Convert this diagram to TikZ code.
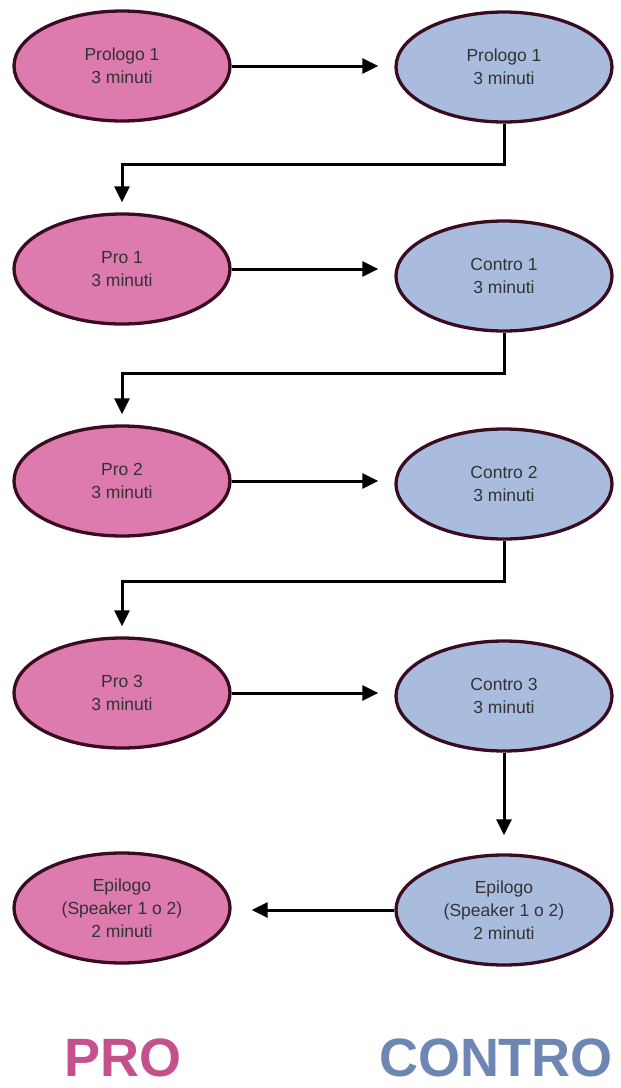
\documentclass[tikz,border=0pt]{standalone}
\usepackage{fontspec}
\setmainfont{Liberation Sans}
\usetikzlibrary{arrows.meta,
                shapes.geometric}
\definecolor{pink}{HTML}{DD7AAE}
\definecolor{lightblue}{HTML}{AABCDD}
\definecolor{rim}{HTML}{3A0C22}
\definecolor{protext}{HTML}{C4508C}
\definecolor{controtext}{HTML}{6D86B4}

\begin{document}
\begin{tikzpicture}[
x=1pt, y=-1pt,
   turn/.style = {ellipse, draw=rim, line width=3.3pt,
                  minimum width=216pt, minimum height=110pt,
                  align=center, text=black!80, inner sep=1pt,
                  font=\fontsize{17.5}{23}\selectfont},
    pro/.style = {turn, fill=pink},
 contro/.style = {turn, fill=lightblue},
    arr/.style = {line width=3pt, -{Triangle[length=16pt,width=15pt]}},
   side/.style = {font=\bfseries\fontsize{54}{54}\selectfont,
                  anchor=base, inner sep=0pt}
                        ]
\useasboundingbox (0,0) rectangle (621,1088);
% speakers
\node[pro]    (P1) at (122,66)  {Prologo 1\\3 minuti};
\node[contro] (C1) at (504,67)  {Prologo 1\\3 minuti};
\node[pro]    (P2) at (122,269) {Pro 1\\3 minuti};
\node[contro] (C2) at (504,276) {Contro 1\\3 minuti};
\node[pro]    (P3) at (122,481) {Pro 2\\3 minuti};
\node[contro] (C3) at (504,484) {Contro 2\\3 minuti};
\node[pro]    (P4) at (122,693) {Pro 3\\3 minuti};
\node[contro] (C4) at (504,696) {Contro 3\\3 minuti};
\node[pro]    (P5) at (122,908) {Epilogo\\(Speaker 1 o 2)\\2 minuti};
\node[contro] (C5) at (504,910) {Epilogo\\(Speaker 1 o 2)\\2 minuti};
% turns
\foreach \i in {1,...,4}
    \draw[arr, shorten >=16pt] (P\i.east) -- (P\i.east -| C\i.west);
\foreach \i [evaluate=\i as \j using int(\i+1)] in {1,2,3}
    \draw[arr, shorten >=10pt] (C\i.south) -- ++(0,41) -| (P\j.north);
\draw[arr, shorten >=18pt] (C4.south) -- (C5.north);
\draw[arr, shorten >=20pt] (C5.west) -- (C5.west -| P5.east);
% sides
\node[side, text=protext]    (pro)    at (123,1076) {PRO};
\node[side, text=controtext] (contro) at (496,1076) {CONTRO};
    \end{tikzpicture}
\end{document}
